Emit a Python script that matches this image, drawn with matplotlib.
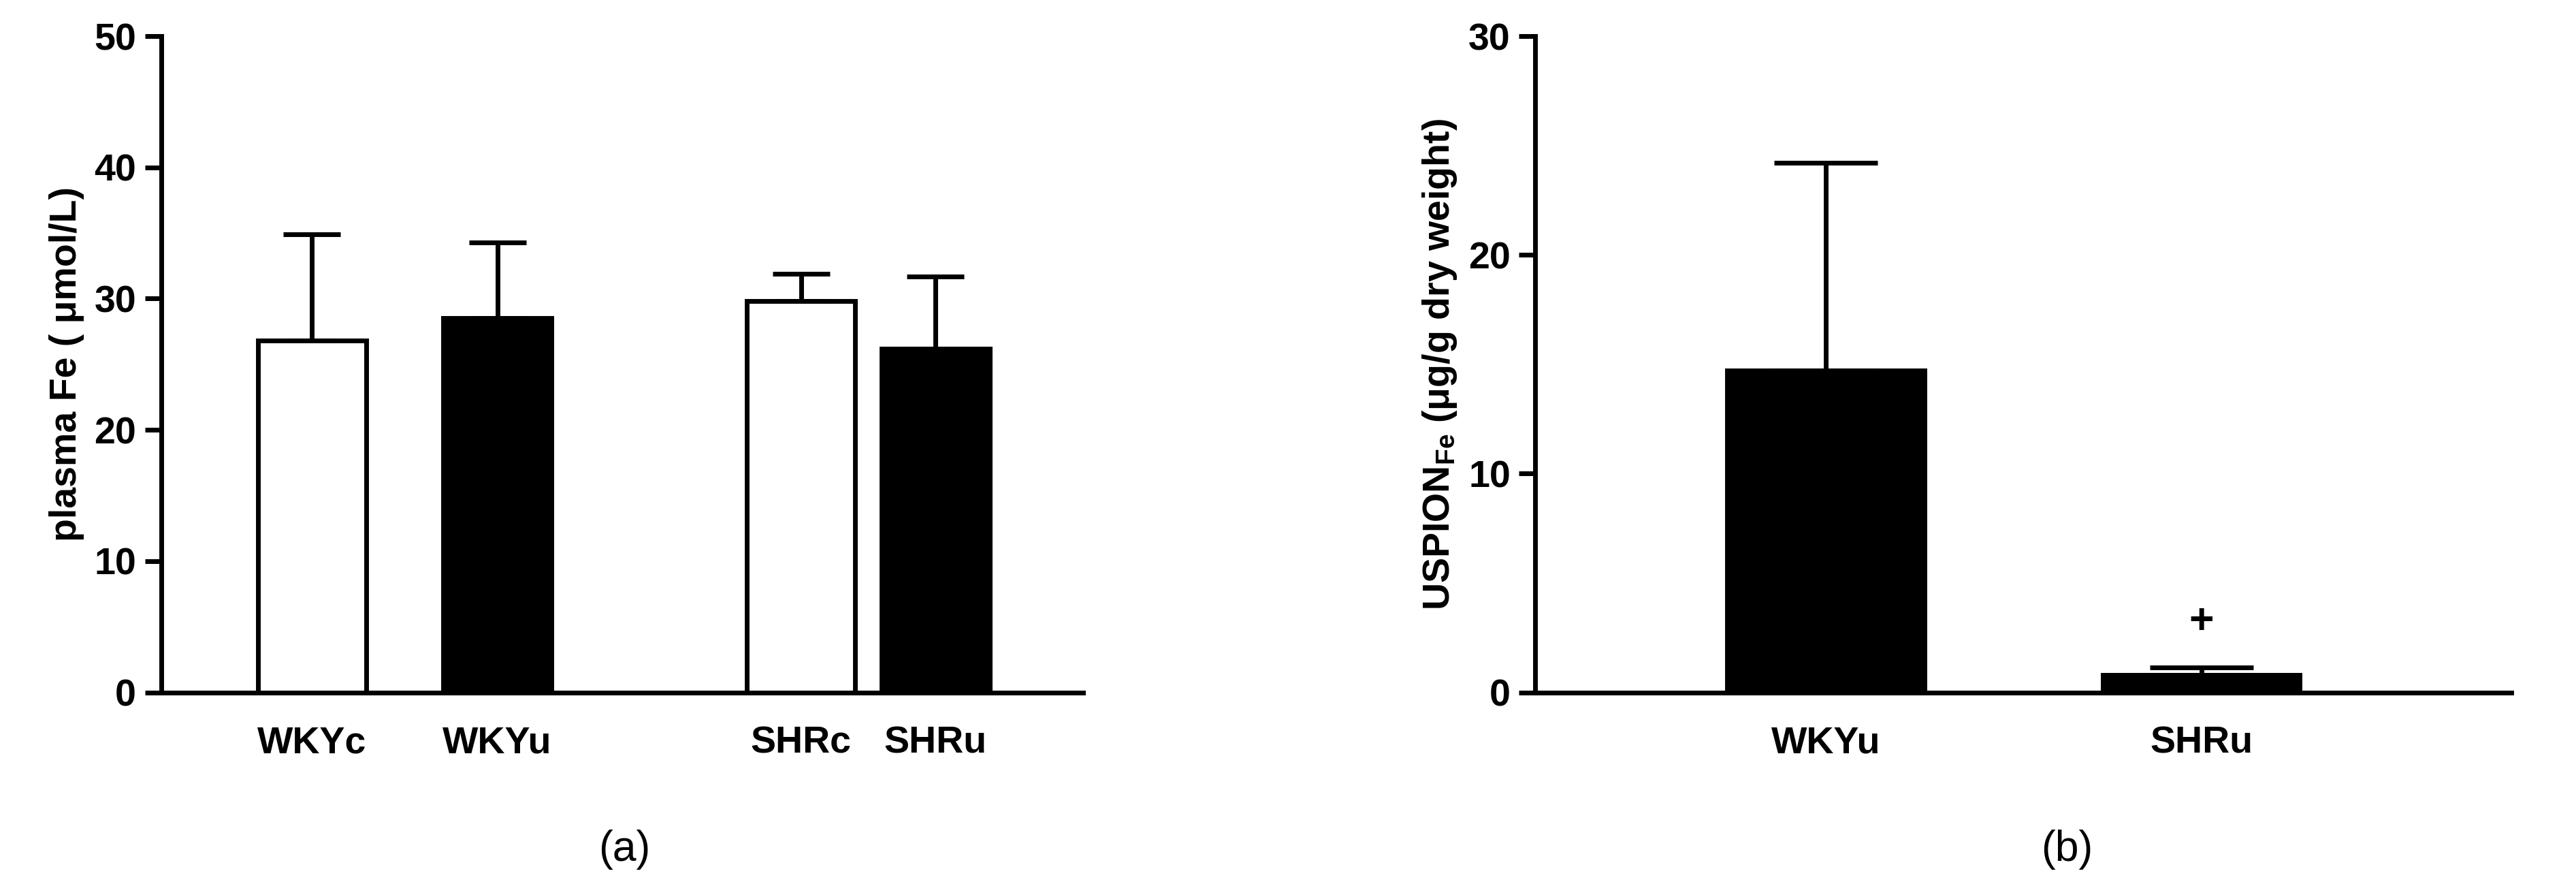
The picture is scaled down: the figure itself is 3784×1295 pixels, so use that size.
import matplotlib
matplotlib.use("Agg")
import matplotlib.pyplot as plt

plt.rcParams['font.family'] = ['Liberation Sans', 'DejaVu Sans']
plt.rcParams['mathtext.fontset'] = 'custom'
plt.rcParams['mathtext.bf'] = 'Liberation Sans:bold'
plt.rcParams['mathtext.rm'] = 'Liberation Sans'

cats_a = ["WKYc", "WKYu", "SHRc", "SHRu"]
vals_a = [26.8, 28.5, 29.8, 26.2]
err_a = [8.1, 5.8, 2.1, 5.5]
fills_a = ["white", "black", "white", "black"]
pos_a = [0.92, 2.05, 3.9, 4.72]

cats_b = ["WKYu", "SHRu"]
vals_b = [14.7, 0.8]
err_b = [9.5, 0.35]
pos_b = [1.77, 4.06]

fig = plt.figure(figsize=(15.136, 5.18), dpi=250)
axa = fig.add_axes([0.0625, 0.215, 0.358, 0.744])
axb = fig.add_axes([0.596, 0.215, 0.379, 0.744])

lw = 2.0
fs = 16
for ax in (axa, axb):
    for s in ("top", "right"):
        ax.spines[s].set_visible(False)
    for s in ("left", "bottom"):
        ax.spines[s].set_linewidth(lw)
    ax.tick_params(width=lw, length=7, labelsize=fs)

axa.bar(pos_a, vals_a, width=0.66, color=fills_a, edgecolor="black", linewidth=lw, zorder=3)
axa.errorbar(pos_a, vals_a, yerr=[[0]*4, err_a], fmt='none', ecolor='black', elinewidth=lw, capsize=12, capthick=lw, zorder=2)
axa.set_xlim(0, 5.62)
axa.set_ylim(0, 50)
axa.set_yticks([0, 10, 20, 30, 40, 50])
axa.set_xticks(pos_a)
axa.set_xticklabels(cats_a, fontweight='bold', fontsize=fs)
axa.tick_params(axis='x', length=0, pad=14)
axa.set_ylabel("plasma Fe ( μmol/L)", fontweight='bold', fontsize=fs)
for t in axa.get_yticklabels():
    t.set_fontweight('bold')

axb.bar(pos_b, vals_b, width=1.2, color="black", edgecolor="black", linewidth=lw, zorder=3)
axb.errorbar(pos_b, vals_b, yerr=[[0]*2, err_b], fmt='none', ecolor='black', elinewidth=lw, capsize=22, capthick=lw, zorder=2)
axb.text(pos_b[1], 3.2, "+", ha='center', va='center', fontsize=18, fontweight='bold')
axb.set_xlim(0, 5.95)
axb.set_ylim(0, 30)
axb.set_yticks([0, 10, 20, 30])
axb.set_xticks(pos_b)
axb.set_xticklabels(cats_b, fontweight='bold', fontsize=fs)
axb.tick_params(axis='x', length=0, pad=14)
axb.set_ylabel(r"USPION$\mathbf{_{Fe}}$ (μg/g dry weight)", fontweight='bold', fontsize=fs)
for t in axb.get_yticklabels():
    t.set_fontweight('bold')

fig.text(380/1568, 0.037, "(a)", ha='center', va='center', fontsize=18)
fig.text(1258/1568, 0.037, "(b)", ha='center', va='center', fontsize=18)

fig.savefig("out.png", dpi=250)
